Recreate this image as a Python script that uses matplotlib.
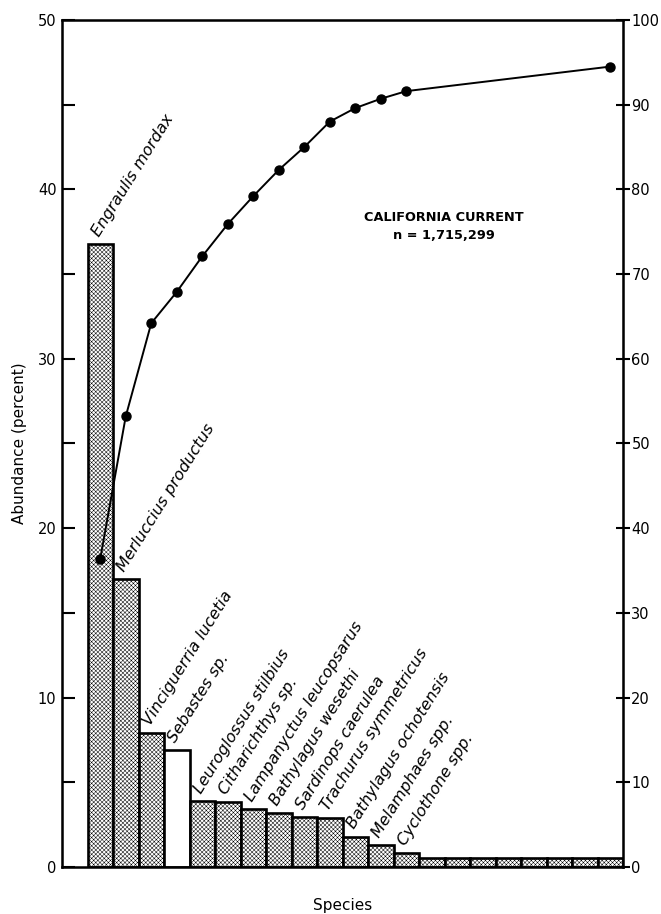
import matplotlib
matplotlib.use("Agg")
import matplotlib.pyplot as plt
import numpy as np

species = ["Engraulis mordax", "Merluccius productus", "Vinciguerria lucetia",
           "Sebastes sp.", "Leuroglossus stilbius", "Citharichthys sp.",
           "Lampanyctus leucopsarus", "Bathylagus wesethi", "Sardinops caerulea",
           "Trachurus symmetricus", "Bathylagus ochotensis", "Melamphaes spp.",
           "Cyclothone spp.", "", "", "", "", "", "", "", ""]
abundance = [36.8, 17.0, 7.9, 6.9, 3.9, 3.85, 3.4, 3.2, 2.95, 2.9, 1.8, 1.3, 0.8,
             0.55, 0.55, 0.55, 0.55, 0.55, 0.55, 0.55, 0.55]
stippled = [True, True, True, False, True, True, True, True, True, True, True,
            True, True, True, True, True, True, True, True, True, True]
cum_positions = [1, 2, 3, 4, 5, 6, 7, 8, 9, 10, 11, 12, 13, 21]
cumulative = [36.4, 53.2, 64.2, 67.9, 72.1, 75.9, 79.2, 82.3, 85.0, 88.0, 89.6,
              90.7, 91.6, 94.5]
left_ticks = [0, 10, 20, 30, 40, 50]
right_ticks = [0, 10, 20, 30, 40, 50, 60, 70, 80, 90, 100]

plt.rcParams['font.family'] = ['DejaVu Sans']
plt.rcParams['hatch.linewidth'] = 0.35

fig = plt.figure(figsize=(6.61, 9.14), dpi=100)
ax = fig.add_axes([62/661, 1-867/914, (623-62)/661, (867-20)/914])

x = np.arange(1, len(abundance) + 1)
for xi, h, s in zip(x, abundance, stippled):
    ax.bar(xi, h, width=1.0, facecolor='white', edgecolor='black',
           linewidth=1.9, hatch='xxxxxxxx' if s else None)

ax.set_xlim(-0.5, 21.5)
ax.set_ylim(0, 50)
ax.set_yticks(left_ticks)
ax.set_yticks(np.arange(0, 51, 5), minor=True)
ax.tick_params(axis='y', which='major', direction='in', length=9, width=1.5,
               labelsize=10.5, pad=4)
ax.tick_params(axis='y', which='minor', direction='in', length=9, width=1.5)
ax.set_xticks([])
for sp in ax.spines.values():
    sp.set_linewidth(1.8)

for xi, h, name in zip(x, abundance, species):
    if name:
        ax.text(xi + 0.05, h + 0.3, name, rotation=58, rotation_mode='anchor',
                ha='left', va='bottom', fontsize=11.5, style='italic')

ax.set_ylabel("Abundance (percent)", fontsize=11, labelpad=8)
ax.set_xlabel("Species", fontsize=11, labelpad=22)

ax2 = ax.twinx()
ax2.set_ylim(0, 100)
ax2.set_yticks(right_ticks)
ax2.tick_params(axis='y', direction='inout', length=10, width=1.5,
                labelsize=10.5, pad=1)
ax2.plot(cum_positions, cumulative, color='black', linewidth=1.4,
         marker='o', markersize=6.5)

ax2.text(14.48, 75.6, "CALIFORNIA CURRENT\nn = 1,715,299", ha='center',
         va='center', fontsize=9.3, fontweight='bold', linespacing=1.45)

fig.savefig("out.png", dpi=100)
